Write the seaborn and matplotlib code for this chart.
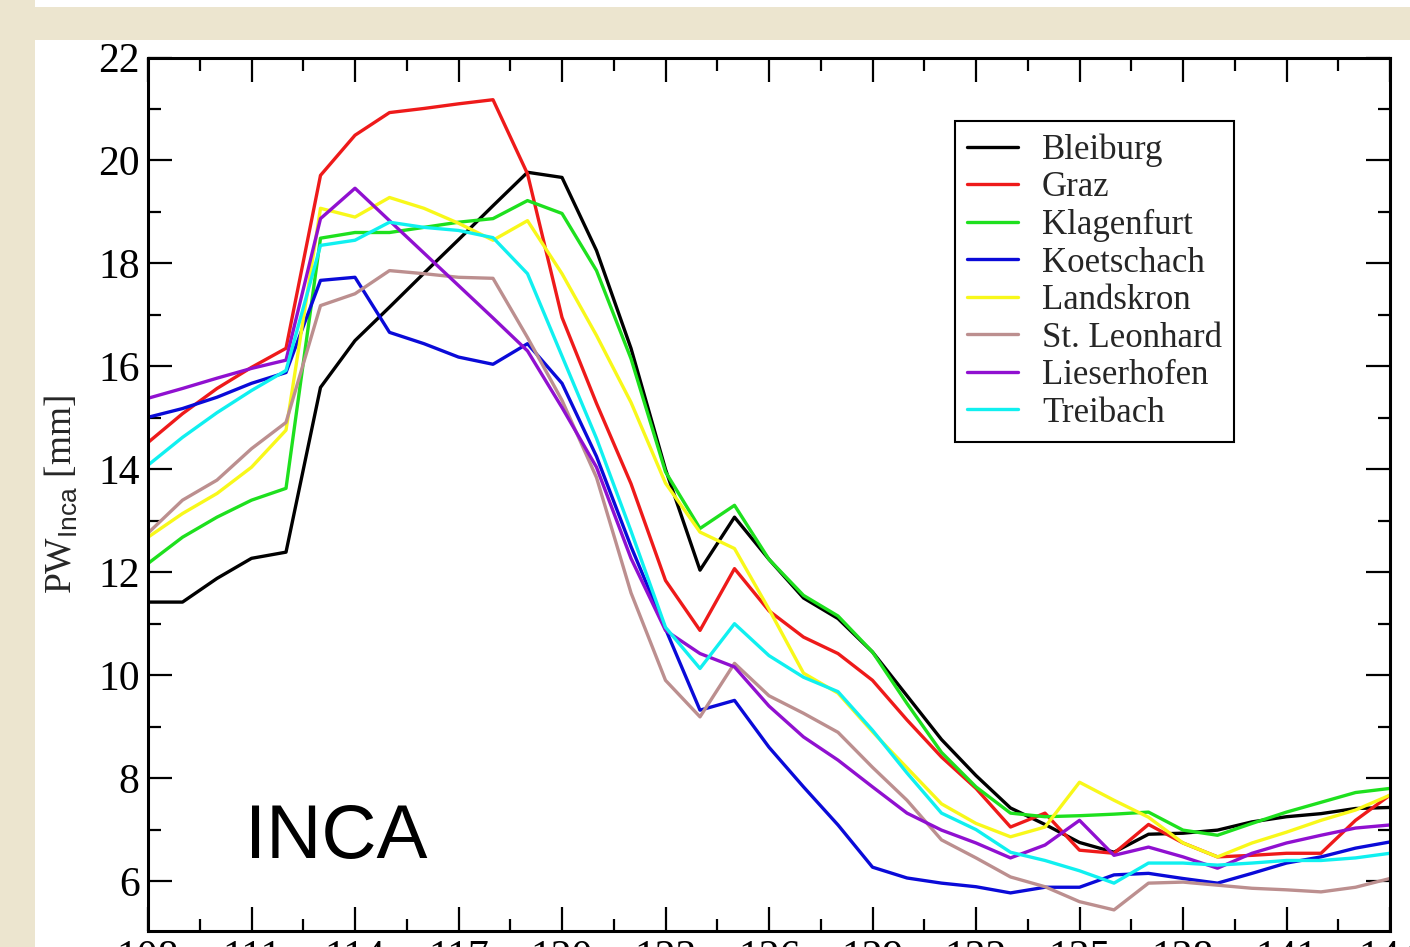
import numpy as np
import pandas as pd
import matplotlib
matplotlib.use("Agg")
import matplotlib.pyplot as plt
from matplotlib.ticker import MultipleLocator
from matplotlib.patches import Rectangle
import seaborn as sns

# ---- data ----
days = list(range(108, 145))

stations = ["Bleiburg", "Graz", "Klagenfurt", "Koetschach", "Landskron",
            "St. Leonhard", "Lieserhofen", "Treibach"]

bleiburg = [11.42, 11.42, 11.88, 12.27, 12.39, 15.59, 16.50, 17.15, 17.81, 18.46,
            19.12, 19.77, 19.67, 18.25, 16.35, 14.00, 12.04, 13.07, 12.25, 11.50,
            11.10, 10.45, 9.60, 8.75, 8.05, 7.42, 7.10, 6.75, 6.56, 6.91,
            6.93, 6.99, 7.15, 7.25, 7.31, 7.41, 7.43]
graz = [14.52, 15.08, 15.57, 15.98, 16.35, 19.71, 20.49, 20.93, 21.01, 21.10,
        21.18, 19.74, 16.95, 15.28, 13.72, 11.84, 10.87, 12.07, 11.25, 10.74,
        10.42, 9.90, 9.13, 8.41, 7.80, 7.05, 7.32, 6.60, 6.54, 7.10,
        6.74, 6.47, 6.50, 6.54, 6.54, 7.18, 7.67]
klagenfurt = [12.17, 12.68, 13.07, 13.40, 13.63, 18.49, 18.60, 18.60, 18.70, 18.80,
              18.87, 19.22, 18.97, 17.86, 16.15, 13.95, 12.85, 13.30, 12.25, 11.55,
              11.15, 10.45, 9.45, 8.50, 7.83, 7.32, 7.25, 7.27, 7.30, 7.34,
              6.99, 6.89, 7.12, 7.34, 7.53, 7.72, 7.80]
koetschach = [15.01, 15.18, 15.40, 15.67, 15.88, 17.67, 17.73, 16.66, 16.44, 16.18,
              16.04, 16.44, 15.67, 14.25, 12.50, 10.90, 9.32, 9.51, 8.60, 7.83,
              7.09, 6.27, 6.06, 5.96, 5.89, 5.77, 5.88, 5.88, 6.12, 6.15,
              6.05, 5.96, 6.15, 6.35, 6.47, 6.64, 6.76]
landskron = [12.68, 13.14, 13.53, 14.04, 14.76, 19.07, 18.90, 19.28, 19.07, 18.78,
             18.45, 18.83, 17.80, 16.60, 15.30, 13.73, 12.78, 12.46, 11.28, 10.04,
             9.65, 8.90, 8.20, 7.50, 7.12, 6.86, 7.05, 7.92, 7.57, 7.24,
             6.74, 6.47, 6.74, 6.95, 7.18, 7.38, 7.67]
st_leonhard = [12.76, 13.40, 13.79, 14.40, 14.91, 17.18, 17.41, 17.86, 17.80, 17.73,
               17.71, 16.56, 15.34, 13.84, 11.60, 9.90, 9.19, 10.23, 9.60, 9.26,
               8.89, 8.21, 7.57, 6.80, 6.45, 6.08, 5.89, 5.60, 5.44, 5.96,
               5.98, 5.92, 5.86, 5.83, 5.79, 5.88, 6.05]
lieserhofen = [15.38, 15.57, 15.77, 15.96, 16.12, 18.87, 19.46, 18.83, 18.20, 17.57,
               16.94, 16.30, 15.20, 14.04, 12.27, 10.87, 10.42, 10.16, 9.40, 8.80,
               8.35, 7.83, 7.32, 6.99, 6.74, 6.45, 6.70, 7.18, 6.50, 6.66,
               6.47, 6.25, 6.54, 6.74, 6.89, 7.03, 7.09]
treibach = [14.08, 14.62, 15.10, 15.53, 15.92, 18.35, 18.45, 18.80, 18.70, 18.64,
            18.50, 17.80, 16.20, 14.60, 12.80, 10.93, 10.13, 11.00, 10.38, 9.96,
            9.68, 8.93, 8.10, 7.32, 7.00, 6.56, 6.40, 6.20, 5.96, 6.35,
            6.35, 6.31, 6.35, 6.40, 6.40, 6.45, 6.54]

series = [bleiburg, graz, klagenfurt, koetschach, landskron,
          st_leonhard, lieserhofen, treibach]
colors = ["#000000", "#ee1a1a", "#1ee01e", "#0a0ad8", "#f8f81a",
          "#bc8f8f", "#9010d0", "#10f0f0"]

xticks = list(range(108, 145, 3))
yticks = list(range(6, 23, 2))

df = pd.DataFrame({
    "day": np.tile(days, len(stations)),
    "pw": np.concatenate(series),
    "station": np.repeat(stations, len(days)),
})

# ---- style ----
sns.set_style("ticks")
plt.rcParams["font.family"] = ["Liberation Serif", "DejaVu Serif"]
plt.rcParams["mathtext.fontset"] = "custom"
plt.rcParams["mathtext.rm"] = "Liberation Serif"
plt.rcParams["mathtext.sf"] = "Liberation Sans"

fig = plt.figure(figsize=(14.10, 9.47), dpi=100, facecolor="#ece5cf")
# white slide panel
fig.patches.append(Rectangle((35 / 1410, 0), 1, 1 - 40 / 947, transform=fig.transFigure,
                             facecolor="white", edgecolor="none", zorder=-10))
fig.patches.append(Rectangle((35 / 1410, 1 - 7 / 947), 1, 7 / 947, transform=fig.transFigure,
                             facecolor="white", edgecolor="none", zorder=-10))

ax = fig.add_axes([148 / 1410, 1 - 931 / 947, (1390 - 148) / 1410, (931 - 57.5) / 947])

sns.lineplot(data=df, x="day", y="pw", hue="station", hue_order=stations,
             palette=dict(zip(stations, colors)), linewidth=2.4, ax=ax,
             estimator=None, sort=False)

ax.set_xlim(108, 144)
ax.set_ylim(5.03, 22)
ax.set_xticks(xticks)
ax.set_yticks(yticks)
ax.xaxis.set_minor_locator(MultipleLocator(1.5))
ax.yaxis.set_minor_locator(MultipleLocator(1))
ax.tick_params(which="both", direction="in", top=True, right=True, width=1.6,
               colors="black")
ax.tick_params(which="major", length=17, labelsize=30, pad=6)
ax.tick_params(which="minor", length=9)
for s in ax.spines.values():
    s.set_linewidth(2.2)
    s.set_color("black")

ax.set_xlabel("")
ax.set_ylabel(r"PW$_{\mathsf{Inca}}$ [mm]", fontsize=27, va="center")
ax.yaxis.set_label_coords(-0.070, 0.5)

# legend
leg = ax.get_legend()
handles = leg.legend_handles
labels = [t.get_text() for t in leg.get_texts()]
leg.remove()
for h in handles:
    h.set_linewidth(2.4)
ax.legend(handles, labels, loc="upper left", bbox_to_anchor=(0.650, 0.927),
          borderaxespad=0, fontsize=25, frameon=True, fancybox=False,
          framealpha=1, edgecolor="black", handlelength=1.45, handletextpad=0.7,
          borderpad=0.35, labelspacing=0.13)
ax.get_legend().get_frame().set_linewidth(1.5)

ax.text(0.078, 0.0836, "INCA", transform=ax.transAxes, fontsize=55,
        family="Liberation Sans", va="baseline", ha="left", color="black")

fig.savefig("out.png", dpi=100, facecolor=fig.get_facecolor())
